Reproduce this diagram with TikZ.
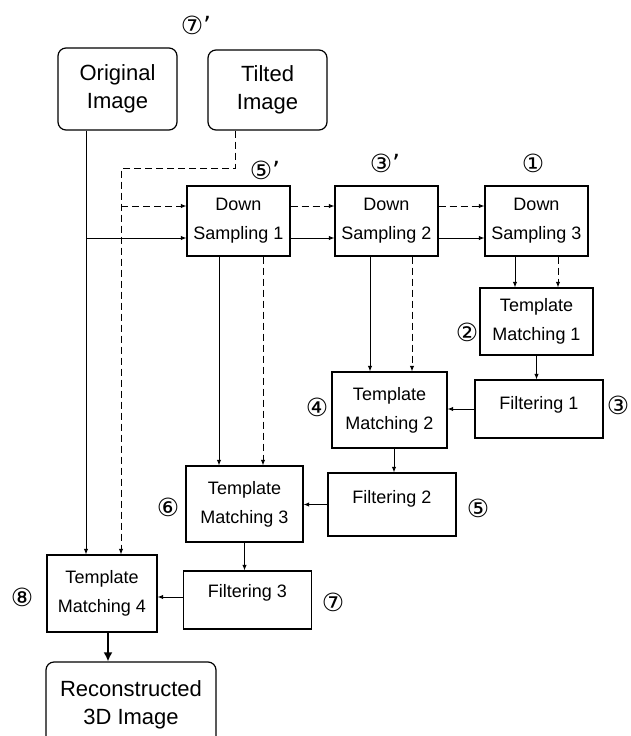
\documentclass[tikz,border=0pt]{standalone}
\usepackage{fontspec}
\setmainfont{Liberation Sans}
\newfontfamily\circfont{DejaVu Sans}
\usetikzlibrary{arrows.meta}
\begin{document}
\begin{tikzpicture}[x=1pt,y=-1pt,
  box/.style={draw,line width=1.2pt,align=center,inner sep=0pt,font=\fontsize{18}{29}\selectfont},
  imgbox/.style={box,rounded corners=8pt,font=\fontsize{22}{28}\selectfont},
  filtbox/.style={draw,line width=1.2pt,inner sep=0pt,minimum width=128pt,font=\fontsize{18}{22}\selectfont},
  num/.style={inner sep=0pt,font=\circfont\fontsize{25}{28}\selectfont},
  arr/.style={line width=1pt,-{Latex[length=5.5pt,width=4.5pt]}},
  darr/.style={arr,dash pattern=on 7pt off 4pt}]
\useasboundingbox (0,0) rectangle (631,736);
% boxes
\node[imgbox,minimum width=119pt,minimum height=82pt] (orig) at (117.5,89) {Original\\Image};
\node[imgbox,minimum width=119pt,minimum height=80pt] (tilt) at (267.5,90) {Tilted\\Image};
\node[box,minimum width=103pt,minimum height=70pt] (ds1) at (238.5,221) {Down\\Sampling 1};
\node[box,minimum width=103pt,minimum height=70pt] (ds2) at (386.5,221) {Down\\Sampling 2};
\node[box,minimum width=103pt,minimum height=70pt] (ds3) at (536.5,221) {Down\\Sampling 3};
\node[box,minimum width=113pt,minimum height=67pt] (tm1) at (536.5,321.5) {Template\\Matching 1};
\node[filtbox,text height=29pt,text depth=29pt] (f1) at (539,409) {Filtering 1};
\node[box,minimum width=115pt,minimum height=76pt] (tm2) at (389.5,410) {Template\\Matching 2};
\node[filtbox,text height=30pt,text depth=33pt] (f2) at (392,504.5) {Filtering 2};
\node[box,minimum width=117pt,minimum height=76pt] (tm3) at (244.5,504) {Template\\Matching 3};
\node[filtbox,text height=26pt,text depth=32pt] (f3) at (247.5,600) {Filtering 3};
\node[box,minimum width=110pt,minimum height=77pt] (tm4) at (102,593.5) {Template\\Matching 4};
\node[imgbox,minimum width=170pt,minimum height=86pt] (rec) at (131,705) {Reconstructed\\3D Image};
% step numbers
\node[num] (l7p) at (196,25) {⑦’};
\node[num] (l5p) at (265,170) {⑤’};
\node[num] (l3p) at (385,163) {③’};
\node[num] (l1) at (533,163) {①};
\node[num] (l2) at (467,332) {②};
\node[num] (l3) at (618,405) {③};
\node[num] (l4) at (317,407) {④};
\node[num] (l5) at (478,508) {⑤};
\node[num] (l6) at (168,507) {⑥};
\node[num] (l7) at (333,602) {⑦};
\node[num] (l8) at (22,597) {⑧};
% original image path
\coordinate (olin) at ([xshift=-16pt]tm4.north);
\draw[arr] (orig.south -| olin) -- (olin);
\coordinate (ds1s) at ([yshift=-17pt]ds1.west);
\draw[arr] (olin |- ds1s) -- (ds1s);
\draw[arr] ([yshift=-17pt]ds1.east) -- ([yshift=-17pt]ds1.east -| ds2.west);
\draw[arr] ([yshift=-17pt]ds2.east) -- ([yshift=-17pt]ds2.east -| ds3.west);
% tilted image path
\coordinate (tlin) at ([xshift=19pt]tm4.north);
\draw[darr] ([xshift=-32.5pt]tilt.south) -- ++(0,38) -| (tlin);
\coordinate (ds1d) at ([yshift=15pt]ds1.west);
\draw[darr] (tlin |- ds1d) -- (ds1d);
\draw[darr] ([yshift=15pt]ds1.east) -- ([yshift=15pt]ds1.east -| ds2.west);
\draw[darr] ([yshift=15pt]ds2.east) -- ([yshift=15pt]ds2.east -| ds3.west);
% down to matching
\draw[arr] ([xshift=-21.5pt]ds3.south) -- ([xshift=-21.5pt]ds3.south |- tm1.north);
\draw[darr] ([xshift=21.5pt]ds3.south) -- ([xshift=21.5pt]ds3.south |- tm1.north);
\draw[arr] ([xshift=-16.5pt]ds2.south) -- ([xshift=-16.5pt]ds2.south |- tm2.north);
\draw[darr] ([xshift=25.5pt]ds2.south) -- ([xshift=25.5pt]ds2.south |- tm2.north);
\draw[arr] ([xshift=-19.5pt]ds1.south) -- ([xshift=-19.5pt]ds1.south |- tm3.north);
\draw[darr] ([xshift=24.5pt]ds1.south) -- ([xshift=24.5pt]ds1.south |- tm3.north);
% matching and filtering
\draw[arr] (tm1.south) -- (tm1.south |- f1.north);
\draw[arr] (f1.west) -- (f1.west -| tm2.east);
\draw[arr] ([xshift=4.5pt]tm2.south) -- ([xshift=4.5pt]tm2.south |- f2.north);
\draw[arr] (f2.west) -- (f2.west -| tm3.east);
\draw[arr] (tm3.south) -- (tm3.south |- f3.north);
\draw[arr] ([yshift=3pt]f3.west) -- ([yshift=3pt]f3.west -| tm4.east);
\draw[line width=2.6pt,-{Latex[length=9pt,width=9pt]}] ([xshift=6pt]tm4.south) -- ([xshift=6pt]tm4.south |- rec.north);
\end{tikzpicture}
\end{document}
